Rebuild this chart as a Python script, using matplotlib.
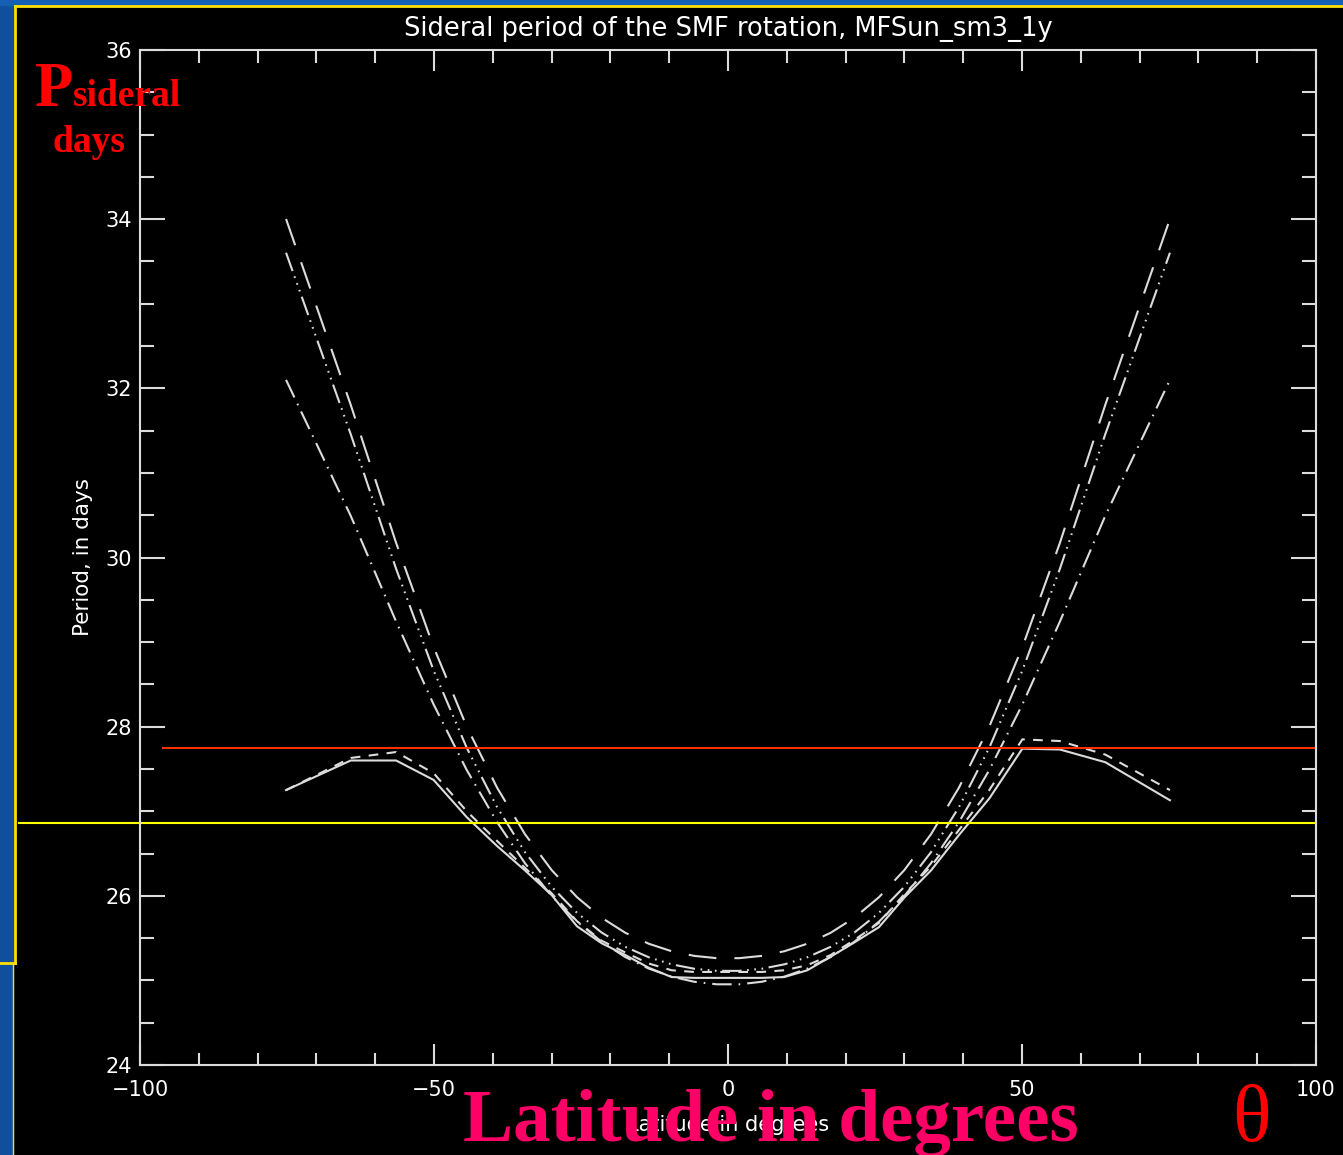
import matplotlib
matplotlib.use("Agg")
import matplotlib.pyplot as plt
from matplotlib.patches import Rectangle
from matplotlib.lines import Line2D
from matplotlib.ticker import MultipleLocator

plt.rcParams["lines.scale_dashes"] = False

# ---------- data (sin-latitude grid, degrees) ----------
lat = [-75.16, -64.16, -56.44, -50.06, -44.43, -39.29, -34.52, -30.0, -25.68, -21.51,
       -17.46, -13.49, -9.59, -5.74, -1.91, 1.91, 5.74, 9.59, 13.49, 17.46,
       21.51, 25.68, 30.0, 34.52, 39.29, 44.43, 50.06, 56.44, 64.16, 75.16]

# measured periods (days)
p_data = [27.25, 27.60, 27.60, 27.37, 26.93, 26.59, 26.30, 26.01, 25.64, 25.44,
          25.30, 25.15, 25.04, 25.03, 25.03, 25.03, 25.03, 25.04, 25.12, 25.28,
          25.45, 25.63, 25.98, 26.30, 26.72, 27.15, 27.74, 27.73, 27.58, 27.13]
p_data2 = [27.25, 27.63, 27.70, 27.45, 27.00, 26.65, 26.33, 26.03, 25.70, 25.47,
           25.33, 25.20, 25.12, 25.10, 25.10, 25.10, 25.10, 25.12, 25.18, 25.30,
           25.48, 25.68, 26.02, 26.35, 26.78, 27.25, 27.85, 27.83, 27.67, 27.25]

# fitted profiles
p_fit_a = [34.002, 31.804, 30.172, 28.940, 28.000, 27.281, 26.728, 26.305, 25.984, 25.742,
           25.563, 25.434, 25.345, 25.290, 25.263, 25.263, 25.290, 25.345, 25.434, 25.563,
           25.742, 25.984, 26.305, 26.728, 27.281, 28.000, 28.940, 30.172, 31.804, 34.002]
p_fit_b = [33.603, 31.457, 29.865, 28.664, 27.750, 27.051, 26.516, 26.108, 25.799, 25.567,
           25.397, 25.274, 25.190, 25.138, 25.113, 25.113, 25.138, 25.190, 25.274, 25.397,
           25.567, 25.799, 26.108, 26.516, 27.051, 27.750, 28.664, 29.865, 31.457, 33.603]
p_fit_c = [32.100, 30.492, 29.242, 28.262, 27.487, 26.873, 26.385, 25.999, 25.695, 25.458,
           25.276, 25.140, 25.045, 24.984, 24.954, 24.954, 24.984, 25.045, 25.140, 25.276,
           25.458, 25.695, 25.999, 26.385, 26.873, 27.487, 28.262, 29.242, 30.492, 32.100]

# reference periods
p_red = 27.75
p_yellow = 26.86

x_ticks = [-100, -50, 0, 50, 100]
x_ticklabels = ["\u2212100", "\u221250", "0", "50", "100"]
y_ticks = [24, 26, 28, 30, 32, 34, 36]

# ---------- figure ----------
W, H = 1343, 1155
fig = plt.figure(figsize=(W / 100, H / 100), dpi=100, facecolor="black")


def fx(px):
    return px / W


def fy(py):
    return 1 - py / H


# slide background strips and yellow frame
fig.patches.append(Rectangle((0, 0), fx(13), 1, transform=fig.transFigure,
                             color="#0f4f9c", zorder=0))
fig.patches.append(Rectangle((0, fy(5)), 1, 5 / H, transform=fig.transFigure,
                             color="#1560b5", zorder=0))
for xs, ys, lw in [([14.5, W], [6, 6], 2.0),
                   ([14.5, 14.5], [6, 963], 2.0),
                   ([0, 14.5], [963, 963], 2.0),
                   ([13.5, 13.5], [963, H], 1.0)]:
    fig.lines.append(Line2D([fx(v) for v in xs], [fy(v) for v in ys],
                            transform=fig.transFigure, color="#ffe000", lw=lw))

ax = fig.add_axes([140 / W, (H - 1065) / H, 1176 / W, 1015 / H])
ax.set_facecolor("black")

fg = "#dcdcdc"
lw = 1.5
ax.plot(lat, p_data, color=fg, lw=lw, ls="-")
ax.plot(lat, p_data2, color=fg, lw=lw, ls=(0, (7, 6)))
ax.plot(lat, p_fit_a, color=fg, lw=lw, ls=(0, (20, 13)))
ax.plot(lat, p_fit_b, color=fg, lw=lw, ls=(0, (14, 4, 1.2, 4, 1.2, 4, 1.2, 4)))
ax.plot(lat, p_fit_c, color=fg, lw=lw, ls=(0, (14, 5, 1.2, 5)))

# reference lines
ax.plot([-96.1, 100], [p_red, p_red], color="#ff3000", lw=1.5, clip_on=False)
ax.plot([-120.5, 100], [p_yellow, p_yellow], color="#ffff00", lw=1.5, clip_on=False)

ax.set_xlim(-100, 100)
ax.set_ylim(24, 36)

for s in ax.spines.values():
    s.set_color(fg)
    s.set_linewidth(1.5)

ax.set_xticks(x_ticks)
ax.set_xticklabels(x_ticklabels)
ax.set_yticks(y_ticks)
ax.xaxis.set_minor_locator(MultipleLocator(10))
ax.yaxis.set_minor_locator(MultipleLocator(0.5))
ax.tick_params(which="both", direction="in", top=True, right=True, color=fg, width=1.5,
               labelcolor="white", labelsize=15)
ax.tick_params(axis="x", which="major", length=15, pad=11)
ax.tick_params(axis="x", which="minor", length=9)
ax.tick_params(axis="y", which="major", length=18, pad=6)
ax.tick_params(axis="y", which="minor", length=10)

ax.text(0.5, 1.021, "Sideral period of the SMF rotation, MFSun_sm3_1y",
        transform=ax.transAxes, ha="center", va="center", color="white", fontsize=18.5)
ax.text((83 - 140) / 1176, 0.5, "Period, in days", transform=ax.transAxes,
        rotation=90, ha="center", va="center", color="white", fontsize=15.5)
ax.text(0.5, -0.059, "Latitude in degrees", transform=ax.transAxes, ha="center",
        va="center", color="white", fontsize=15)

# slide annotations
serif = "Liberation Serif"
fig.text(fx(35), fy(106), "P", color="#ff0000", fontsize=45, fontweight="bold",
         family=serif, ha="left", va="baseline")
fig.text(fx(73), fy(106), "sideral", color="#ff0000", fontsize=27, fontweight="bold",
         family=serif, ha="left", va="baseline")
fig.text(fx(52), fy(152), "days", color="#ff0000", fontsize=27, fontweight="bold",
         family=serif, ha="left", va="baseline")
fig.text(fx(463), fy(1141), "Latitude in degrees", color="#ff0066", fontsize=54,
         fontweight="bold", family=serif, ha="left", va="baseline", zorder=10)
fig.text(fx(1251), fy(1141), "\u03b8", color="#ff0000", fontsize=58,
         family=serif, ha="center", va="baseline", zorder=10)

fig.savefig("out.png", dpi=100, facecolor="black")
